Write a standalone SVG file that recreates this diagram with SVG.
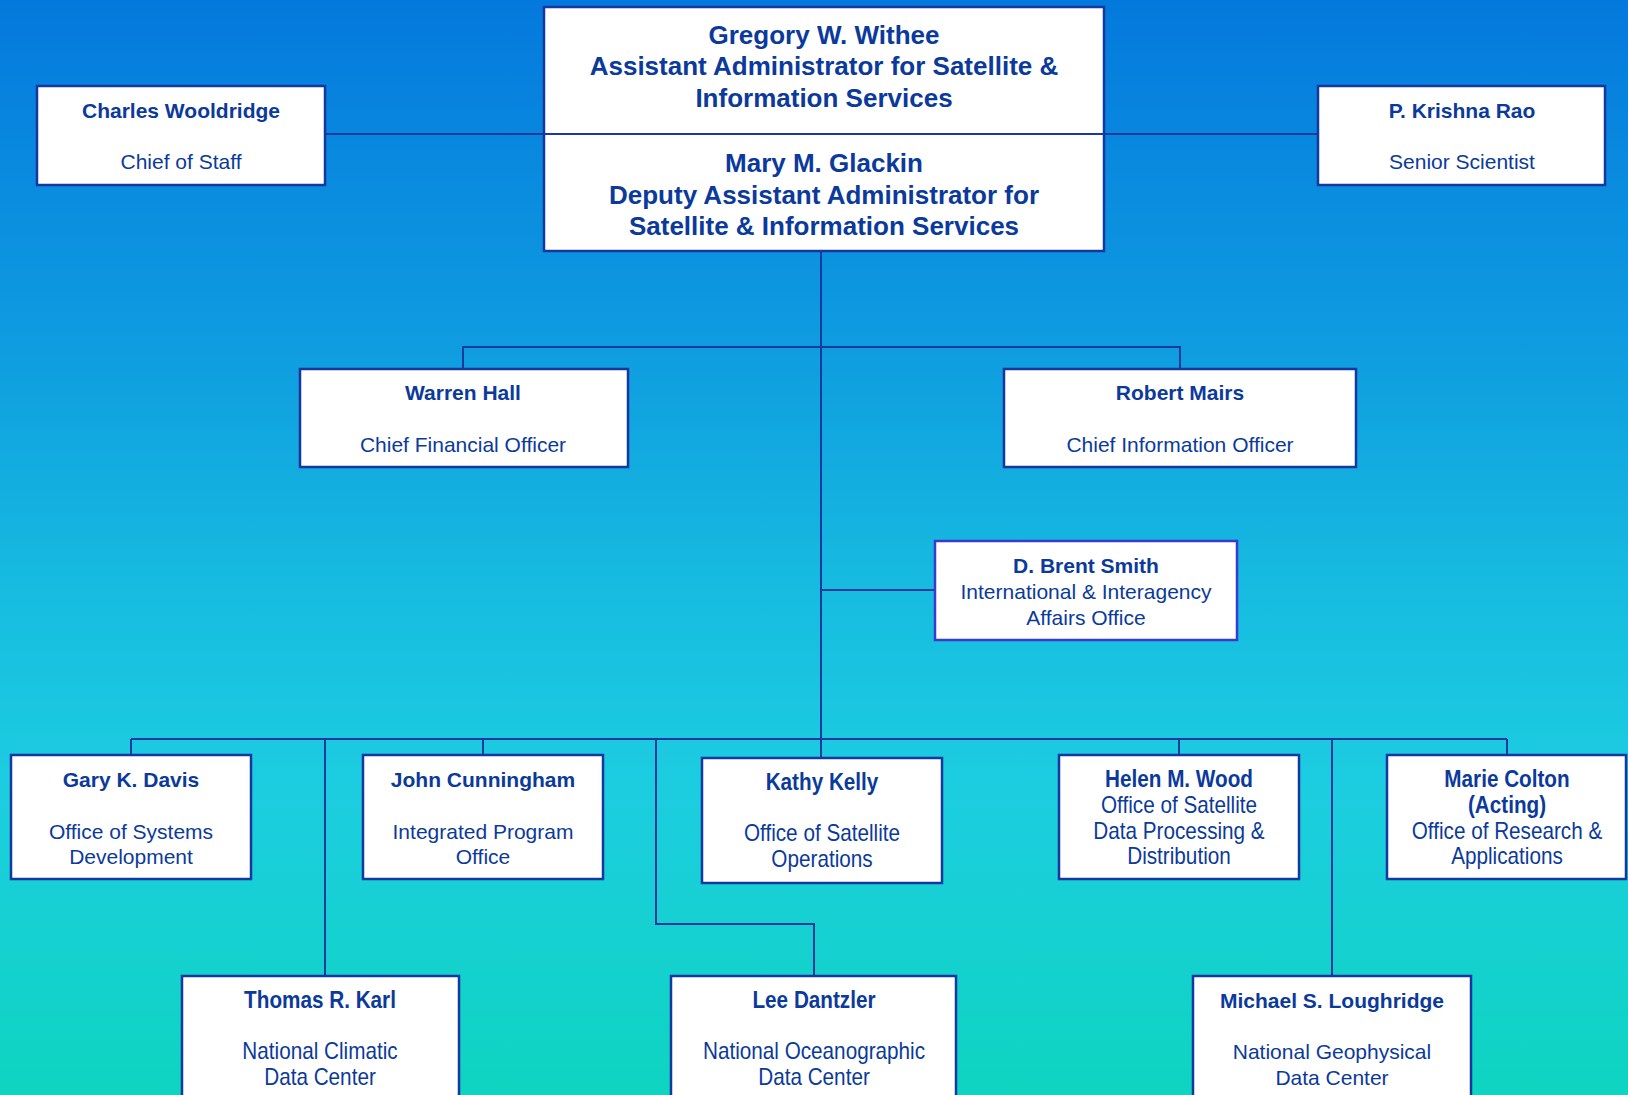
<svg xmlns="http://www.w3.org/2000/svg" width="1628" height="1095" viewBox="0 0 1628 1095">
<defs>
<linearGradient id="bg" x1="0" y1="0" x2="0" y2="1">
<stop offset="0" stop-color="#0479dd"/>
<stop offset="0.3" stop-color="#0e9ae0"/>
<stop offset="0.55" stop-color="#17bde0"/>
<stop offset="0.72" stop-color="#1ccde0"/>
<stop offset="1" stop-color="#0ed4c0"/>
</linearGradient>
<style>
.box{fill:#ffffff;stroke:#1437a0;stroke-width:2.5}
.conn{stroke:#1a3a9e;stroke-width:2;fill:none}
text{font-family:"Liberation Sans",Arial,sans-serif;fill:#0b3a9c;text-anchor:middle}
.big{font-size:26px;font-weight:bold}
.nm{font-size:21px;font-weight:bold}
.tt{font-size:21px}
.nnm{font-size:23px;font-weight:bold}
.ntt{font-size:23px}
</style>
</defs>
<rect x="0" y="0" width="1628" height="1095" fill="url(#bg)"/>
<g id="connectors">
<line class="conn" x1="325" y1="134" x2="1318" y2="134"/>
<line class="conn" x1="821" y1="251" x2="821" y2="758"/>
<polyline class="conn" points="463,369 463,347 1180,347 1180,369"/>
<line class="conn" x1="821" y1="590" x2="935" y2="590"/>
<line class="conn" x1="131" y1="739" x2="1507" y2="739"/>
<line class="conn" x1="131" y1="739" x2="131" y2="755"/>
<line class="conn" x1="483" y1="739" x2="483" y2="755"/>
<line class="conn" x1="1179" y1="739" x2="1179" y2="755"/>
<line class="conn" x1="1507" y1="739" x2="1507" y2="755"/>
<line class="conn" x1="325" y1="739" x2="325" y2="976"/>
<polyline class="conn" points="656,739 656,924 814,924 814,976"/>
<line class="conn" x1="1332" y1="739" x2="1332" y2="976"/>
</g>
<g id="withee-glackin">
<rect class="box" x="544" y="7" width="560" height="244"/>
<line class="conn" x1="544" y1="134" x2="1104" y2="134"/>
<text class="big" x="824" y="43.5">Gregory W. Withee</text>
<text class="big" x="824" y="75">Assistant Administrator for Satellite &amp;</text>
<text class="big" x="824" y="107">Information Services</text>
<text class="big" x="824" y="171.5">Mary M. Glackin</text>
<text class="big" x="824" y="203.5">Deputy Assistant Administrator for</text>
<text class="big" x="824" y="234.5">Satellite &amp; Information Services</text>
</g>
<g id="wooldridge">
<rect class="box" x="37" y="86" width="288" height="99"/>
<text class="nm" x="181" y="117.5">Charles Wooldridge</text>
<text class="tt" x="181" y="168.5">Chief of Staff</text>
</g>
<g id="rao">
<rect class="box" x="1318" y="86" width="287" height="99"/>
<text class="nm" x="1462" y="117.5">P. Krishna Rao</text>
<text class="tt" x="1462" y="168.5">Senior Scientist</text>
</g>
<g id="hall">
<rect class="box" x="300" y="369" width="328" height="98"/>
<text class="nm" x="463" y="399.5">Warren Hall</text>
<text class="tt" x="463" y="451.5">Chief Financial Officer</text>
</g>
<g id="mairs">
<rect class="box" x="1004" y="369" width="352" height="98"/>
<text class="nm" x="1180" y="399.5">Robert Mairs</text>
<text class="tt" x="1180" y="451.5">Chief Information Officer</text>
</g>
<g id="smith">
<rect x="935" y="541" width="302" height="99" fill="#ffffff" stroke="#3a3ad0" stroke-width="2.5"/>
<text class="nm" x="1086" y="572.5">D. Brent Smith</text>
<text class="tt" x="1086" y="598.5">International &amp; Interagency</text>
<text class="tt" x="1086" y="624.5">Affairs Office</text>
</g>
<g id="davis">
<rect class="box" x="11" y="755" width="240" height="124"/>
<text class="nm" x="131" y="786.5">Gary K. Davis</text>
<text class="tt" x="131" y="838.5">Office of Systems</text>
<text class="tt" x="131" y="863.5">Development</text>
</g>
<g id="cunningham">
<rect class="box" x="363" y="755" width="240" height="124"/>
<text class="nm" x="483" y="786.5">John Cunningham</text>
<text class="tt" x="483" y="838.5">Integrated Program</text>
<text class="tt" x="483" y="863.5">Office</text>
</g>
<g id="kelly">
<rect class="box" x="702" y="758" width="240" height="125"/>
<g transform="matrix(0.9 0 0 1 82.2 0)">
<text class="nnm" x="822" y="790">Kathy Kelly</text>
<text class="ntt" x="822" y="841">Office of Satellite</text>
<text class="ntt" x="822" y="867">Operations</text>
</g>
</g>
<g id="wood">
<rect class="box" x="1059" y="755" width="240" height="124"/>
<g transform="matrix(0.9 0 0 1 117.9 0)">
<text class="nnm" x="1179" y="787">Helen M. Wood</text>
<text class="ntt" x="1179" y="813">Office of Satellite</text>
<text class="ntt" x="1179" y="839">Data Processing &amp;</text>
<text class="ntt" x="1179" y="864">Distribution</text>
</g>
</g>
<g id="colton">
<rect class="box" x="1387" y="755" width="239" height="124"/>
<g transform="matrix(0.9 0 0 1 150.7 0)">
<text class="nnm" x="1507" y="787">Marie Colton</text>
<text class="nnm" x="1507" y="813">(Acting)</text>
<text class="ntt" x="1507" y="839">Office of Research &amp;</text>
<text class="ntt" x="1507" y="864">Applications</text>
</g>
</g>
<g id="karl">
<rect class="box" x="182" y="976" width="277" height="130"/>
<g transform="matrix(0.9 0 0 1 32 0)">
<text class="nnm" x="320" y="1008">Thomas R. Karl</text>
<text class="ntt" x="320" y="1059">National Climatic</text>
<text class="ntt" x="320" y="1085">Data Center</text>
</g>
</g>
<g id="dantzler">
<rect class="box" x="671" y="976" width="285" height="130"/>
<g transform="matrix(0.9 0 0 1 81.4 0)">
<text class="nnm" x="814" y="1008">Lee Dantzler</text>
<text class="ntt" x="814" y="1059">National Oceanographic</text>
<text class="ntt" x="814" y="1085">Data Center</text>
</g>
</g>
<g id="loughridge">
<rect class="box" x="1193" y="976" width="278" height="130"/>
<text class="nm" x="1332" y="1007.5">Michael S. Loughridge</text>
<text class="tt" x="1332" y="1058.5">National Geophysical</text>
<text class="tt" x="1332" y="1084.5">Data Center</text>
</g>
</svg>
